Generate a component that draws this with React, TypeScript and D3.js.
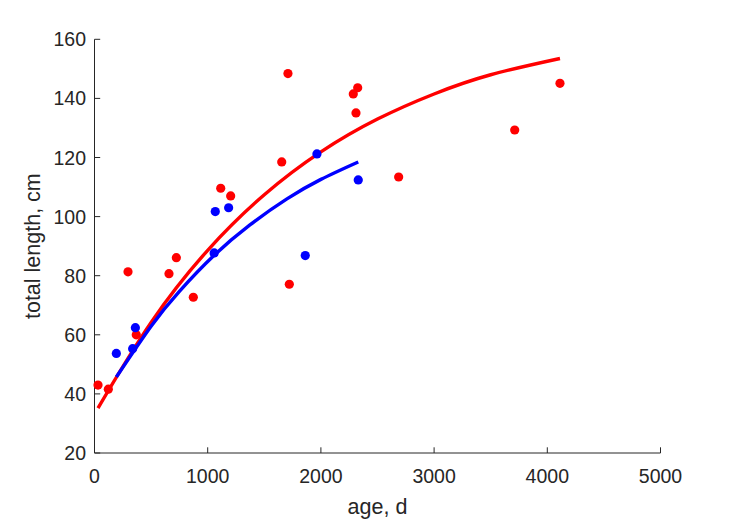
import React from "react";
import * as d3 from "d3";

const redAge = [31, 122, 296, 369, 658, 723, 873, 1115, 1203, 1654, 1709, 1721, 2286, 2325, 2310, 2687, 3712, 4112];
const redLen = [43, 41.6, 81.3, 60, 80.7, 86.1, 72.7, 109.6, 107, 118.5, 148.4, 77.1, 141.5, 143.6, 135.1, 113.4, 129.3, 145.1];
const blueAge = [193, 337, 361, 1057, 1067, 1185, 1862, 1965, 2330];
const blueLen = [53.7, 55.3, 62.4, 87.7, 101.7, 103, 86.8, 121.2, 112.4];

// Fitted curves
const redCurveAge = [31, 500, 1000, 1500, 2000, 2500, 3000, 3500, 4112];
const redCurveLen = [35.2, 64.2, 88.6, 107.4, 121.9, 133, 141.5, 148.0, 153.5];
const blueCurveAge = [193, 500, 750, 1057, 1373, 1700, 2000, 2330];
const blueCurveLen = [45.7, 62.9, 74.7, 86.9, 97.2, 106.0, 112.6, 118.5];

const xTicks = [0, 1000, 2000, 3000, 4000, 5000];
const yTicks = [20, 40, 60, 80, 100, 120, 140, 160];

const W = 729;
const H = 521;
const left = 94.5;
const right = 660.5;
const top = 39.3;
const bottom = 453;
const axisColor = "#262626";
const font = "'Liberation Sans', Arial, Helvetica, sans-serif";

export default function App() {
  const x = d3.scaleLinear().domain([0, 5000]).range([left, right]);
  const y = d3.scaleLinear().domain([20, 160]).range([bottom, top]);
  const line = d3
    .line<[number, number]>()
    .x((d) => x(d[0]))
    .y((d) => y(d[1]))
    .curve(d3.curveNatural);
  const redCurve = redCurveAge.map((a, i) => [a, redCurveLen[i]] as [number, number]);
  const blueCurve = blueCurveAge.map((a, i) => [a, blueCurveLen[i]] as [number, number]);

  return (
    <svg
      width={W}
      height={H}
      style={{ position: "absolute", left: 0, top: 0, background: "#fff" }}
      fontFamily={font}
    >
      <rect x={0} y={0} width={W} height={H} fill="#fff" />
      {/* axes */}
      <line x1={left} x2={right} y1={bottom} y2={bottom} stroke={axisColor} strokeWidth={1} />
      <line x1={left} x2={left} y1={top} y2={bottom} stroke={axisColor} strokeWidth={1} />
      {xTicks.map((t) => (
        <g key={"x" + t}>
          <line x1={x(t)} x2={x(t)} y1={bottom} y2={bottom - 5.7} stroke={axisColor} strokeWidth={1} />
          <text x={x(t)} y={483} textAnchor="middle" fontSize={19.5} fill={axisColor}>
            {t}
          </text>
        </g>
      ))}
      {yTicks.map((t) => (
        <g key={"y" + t}>
          <line x1={left} x2={left + 5.7} y1={y(t)} y2={y(t)} stroke={axisColor} strokeWidth={1} />
          <text x={86} y={y(t)} dy="0.36em" textAnchor="end" fontSize={19.5} fill={axisColor}>
            {t}
          </text>
        </g>
      ))}
      <text x={(left + right) / 2} y={514} textAnchor="middle" fontSize={21.5} fill={axisColor}>
        age, d
      </text>
      <text
        transform={`translate(40,${(top + bottom) / 2}) rotate(-90)`}
        textAnchor="middle"
        fontSize={21.5}
        fill={axisColor}
      >
        total length, cm
      </text>
      {/* curves */}
      <path d={line(redCurve) || ""} fill="none" stroke="#ff0000" strokeWidth={3.4} />
      <path d={line(blueCurve) || ""} fill="none" stroke="#0000ff" strokeWidth={3.4} />
      {/* points */}
      {redAge.map((a, i) => (
        <circle key={"r" + i} cx={x(a)} cy={y(redLen[i])} r={4.6} fill="#ff0000" />
      ))}
      {blueAge.map((a, i) => (
        <circle key={"b" + i} cx={x(a)} cy={y(blueLen[i])} r={4.6} fill="#0000ff" />
      ))}
    </svg>
  );
}
